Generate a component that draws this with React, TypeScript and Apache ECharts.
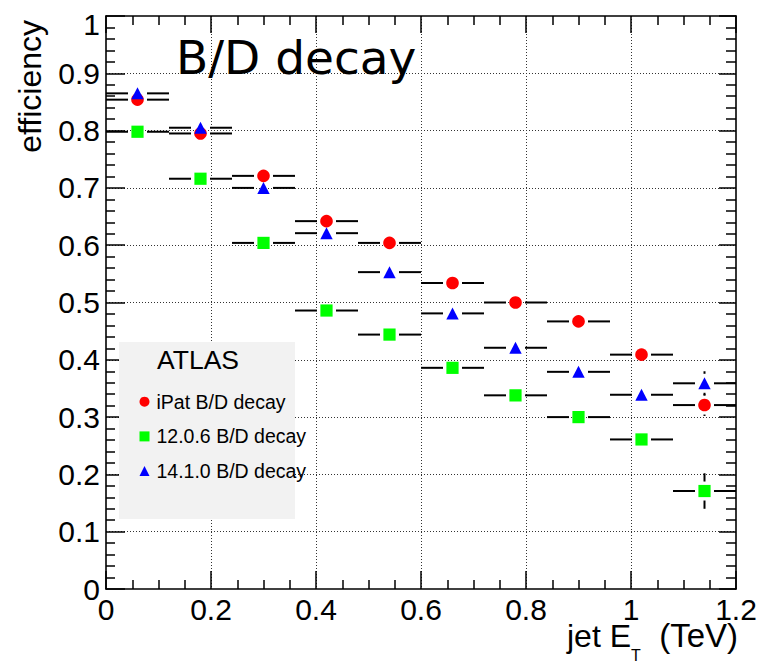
import React, { useEffect, useRef } from 'react';
import * as echarts from 'echarts';

// ---- data ----
const binCenters = [0.06, 0.18, 0.30, 0.42, 0.54, 0.66, 0.78, 0.90, 1.02, 1.14];
const binHalfWidth = 0.06;

const ipatName = 'iPat B/D decay';
const ipatEff = [0.854, 0.795, 0.721, 0.642, 0.604, 0.534, 0.500, 0.467, 0.409, 0.321];
const ipatErr = [0.004, 0.005, 0.006, 0.007, 0.008, 0.009, 0.010, 0.012, 0.014, 0.019];

const rel12Name = '12.0.6 B/D decay';
const rel12Eff = [0.798, 0.716, 0.604, 0.486, 0.444, 0.386, 0.338, 0.300, 0.261, 0.171];
const rel12Err = [0.004, 0.005, 0.006, 0.007, 0.008, 0.009, 0.010, 0.012, 0.014, 0.031];

const rel14Name = '14.1.0 B/D decay';
const rel14Eff = [0.865, 0.805, 0.700, 0.621, 0.553, 0.481, 0.421, 0.379, 0.339, 0.359];
const rel14Err = [0.004, 0.005, 0.006, 0.007, 0.008, 0.009, 0.010, 0.012, 0.014, 0.021];

const titleText = 'B/D decay';
const yTitle = 'efficiency';
const legendHeader = 'ATLAS';

type Kind = 'circle' | 'square' | 'triangle';

function makeRenderer(kind: Kind, color: string) {
  return (_params: any, api: any) => {
    const x = api.value(0);
    const y = api.value(1);
    const ey = api.value(2);
    const c = api.coord([x, y]);
    const cx = c[0];
    const cy = c[1];
    const lx = api.coord([x - binHalfWidth, y])[0];
    const rx = api.coord([x + binHalfWidth, y])[0];
    const ty = api.coord([x, y + ey])[1];
    const by = api.coord([x, y - ey])[1];
    const gap = 9.5;
    const ls = { stroke: '#000', lineWidth: 2 };
    const children: any[] = [
      { type: 'line', shape: { x1: lx, y1: cy, x2: cx - gap, y2: cy }, style: ls },
      { type: 'line', shape: { x1: cx + gap, y1: cy, x2: rx, y2: cy }, style: ls },
    ];
    if (cy - ty > gap) {
      children.push({ type: 'line', shape: { x1: cx, y1: ty, x2: cx, y2: cy - gap }, style: ls });
    }
    if (by - cy > gap) {
      children.push({ type: 'line', shape: { x1: cx, y1: cy + gap, x2: cx, y2: by }, style: ls });
    }
    if (kind === 'circle') {
      children.push({ type: 'circle', shape: { cx, cy, r: 6.3 }, style: { fill: color } });
    } else if (kind === 'square') {
      children.push({ type: 'rect', shape: { x: cx - 6.1, y: cy - 6.1, width: 12.2, height: 12.2 }, style: { fill: color } });
    } else {
      children.push({
        type: 'polygon',
        shape: { points: [[cx, cy - 6], [cx + 6.2, cy + 6], [cx - 6.2, cy + 6]] },
        style: { fill: color },
      });
    }
    return { type: 'group', children };
  };
}

function series(name: string, eff: number[], err: number[], kind: Kind, color: string, z: number) {
  return {
    type: 'custom',
    name,
    z,
    clip: false,
    encode: { x: 0, y: 1 },
    itemStyle: { color },
    renderItem: makeRenderer(kind, color),
    data: binCenters.map((c, i) => [c, eff[i], err[i]]),
  };
}

const FONT = '"Liberation Sans", Arial, Helvetica, sans-serif';

export default function App() {
  const ref = useRef<HTMLDivElement>(null);
  useEffect(() => {
    document.body.style.margin = '0';
    const chart = echarts.init(ref.current!, null, { renderer: 'svg' });
    const tickStyle = { color: '#000', width: 1.5 };
    const axisLineStyle = { color: '#000', width: 1.6 };
    const gridStyle = { type: [1, 2], color: '#333', width: 1 };
    const option: any = {
      animation: false,
      backgroundColor: '#fff',
      textStyle: { fontFamily: FONT },
      grid: { left: 106, right: 26, top: 16, bottom: 75 },
      xAxis: [
        {
          type: 'value', min: 0, max: 1.2, interval: 0.2, position: 'bottom',
          axisLine: { show: true, onZero: false, lineStyle: axisLineStyle },
          axisTick: { show: true, inside: true, length: 18, lineStyle: tickStyle },
          minorTick: { show: true, splitNumber: 4, length: 9, lineStyle: tickStyle },
          splitLine: { show: true, showMinLine: false, showMaxLine: false, lineStyle: gridStyle },
          axisLabel: { fontSize: 30, lineHeight: 22, color: '#000', margin: 9, fontFamily: FONT },
        },
        {
          type: 'value', min: 0, max: 1.2, interval: 0.2, position: 'top',
          axisLine: { show: true, onZero: false, lineStyle: axisLineStyle },
          axisTick: { show: true, inside: true, length: 17, lineStyle: tickStyle },
          minorTick: { show: true, splitNumber: 4, length: 9, lineStyle: tickStyle },
          splitLine: { show: false },
          axisLabel: { show: false },
        },
      ],
      yAxis: [
        {
          type: 'value', min: 0, max: 1, interval: 0.1, position: 'left',
          axisLine: { show: true, onZero: false, lineStyle: axisLineStyle },
          axisTick: { show: true, inside: true, length: 19, lineStyle: tickStyle },
          minorTick: { show: true, splitNumber: 5, length: 9, lineStyle: tickStyle },
          splitLine: { show: true, showMinLine: false, showMaxLine: false, lineStyle: gridStyle },
          axisLabel: {
            fontSize: 30, color: '#000', margin: 6, fontFamily: FONT,
            formatter: (v: number) => (v === 1 ? '{top|1}' : String(Math.round(v * 10) / 10)),
            rich: { top: { fontSize: 30, fontFamily: FONT, color: '#000', padding: [16, 0, 0, 0] } },
          },
        },
        {
          type: 'value', min: 0, max: 1, interval: 0.1, position: 'right',
          axisLine: { show: true, onZero: false, lineStyle: axisLineStyle },
          axisTick: { show: true, inside: true, length: 17, lineStyle: tickStyle },
          minorTick: { show: true, splitNumber: 5, length: 10, lineStyle: tickStyle },
          splitLine: { show: false },
          axisLabel: { show: false },
        },
      ],
      legend: {
        orient: 'vertical',
        left: 139.5,
        top: 387.7,
        padding: 0,
        itemWidth: 10,
        itemHeight: 10,
        itemGap: 6.7,
        z: 8,
        selectedMode: false,
        textStyle: { fontSize: 19.5, color: '#000', fontFamily: FONT, lineHeight: 20, padding: [0, 0, 8, 2] },
        data: [
          { name: ipatName, icon: 'circle', itemStyle: { color: '#ff0000' } },
          { name: rel12Name, icon: 'rect', itemStyle: { color: '#00ff00' } },
          { name: rel14Name, icon: 'triangle', itemStyle: { color: '#0000ff' } },
        ],
      },
      graphic: [
        {
          type: 'rect', z: 5, silent: true,
          shape: { x: 119, y: 342, width: 176, height: 177 },
          style: { fill: '#f2f2f2' },
        },
        {
          type: 'text', z: 8, x: 157, y: 360.1,
          style: { text: legendHeader, fontSize: 26.5, fontFamily: FONT, fill: '#000', align: 'left', verticalAlign: 'middle' },
        },
        {
          type: 'text', z: 8, x: 176, y: 57.2,
          style: { text: titleText, fontSize: 47, fontFamily: '"DejaVu Sans", sans-serif', fill: '#000', align: 'left', verticalAlign: 'middle' },
        },
        {
          type: 'text', z: 8, x: 30.2, y: 20, rotation: Math.PI / 2,
          style: { text: yTitle, fontSize: 32, fontFamily: FONT, fill: '#000', align: 'right', verticalAlign: 'middle' },
        },
        {
          type: 'text', z: 8, x: 631, y: 635.5,
          style: { text: 'jet E', fontSize: 32, lineHeight: 26, fontFamily: FONT, fill: '#000', align: 'right', verticalAlign: 'middle' },
        },
        {
          type: 'text', z: 8, x: 631, y: 655.5,
          style: { text: 'T', fontSize: 16, lineHeight: 14, fontFamily: FONT, fill: '#000', align: 'left', verticalAlign: 'middle' },
        },
        {
          type: 'text', z: 8, x: 738, y: 635.5,
          style: { text: '(TeV)', fontSize: 33, lineHeight: 26, fontFamily: FONT, fill: '#000', align: 'right', verticalAlign: 'middle' },
        },
      ],
      series: [
        series(ipatName, ipatEff, ipatErr, 'circle', '#ff0000', 2),
        series(rel12Name, rel12Eff, rel12Err, 'square', '#00ff00', 3),
        series(rel14Name, rel14Eff, rel14Err, 'triangle', '#0000ff', 4),
      ],
    };
    chart.setOption(option);
    return () => chart.dispose();
  }, []);
  return <div ref={ref} style={{ width: 762, height: 664 }} />;
}
